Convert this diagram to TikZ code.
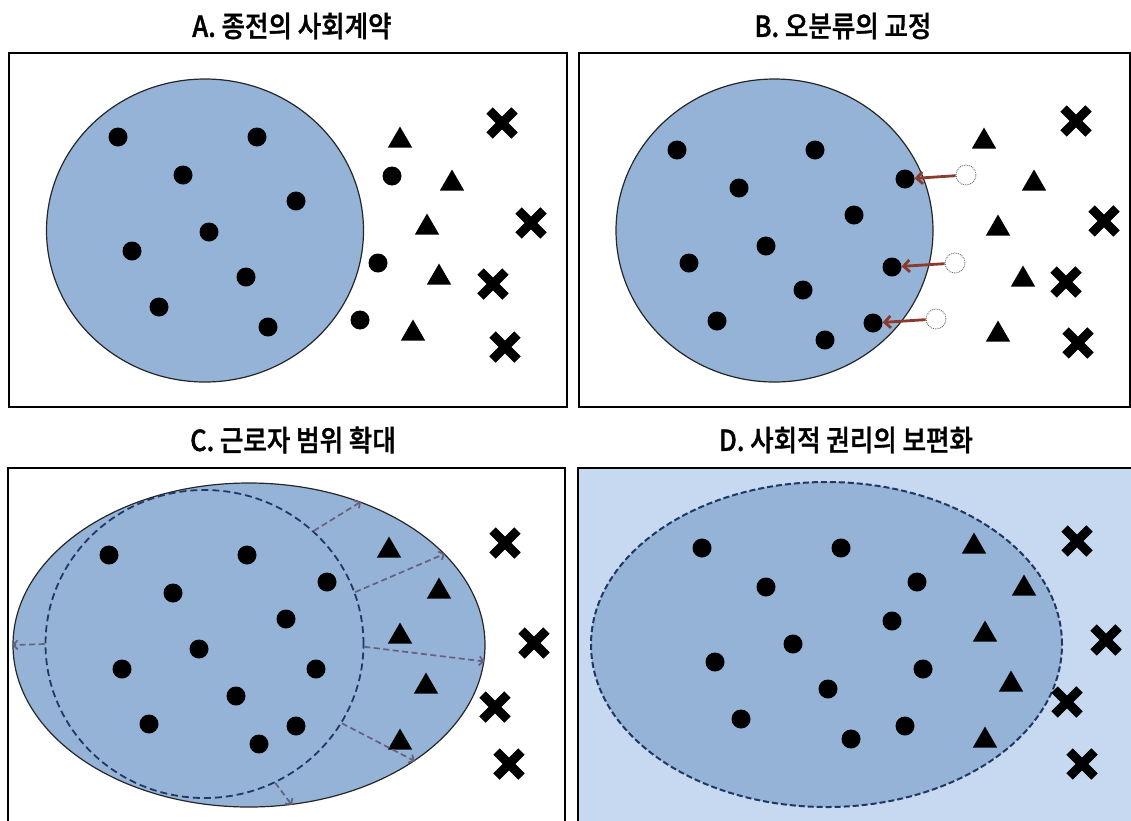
\documentclass[tikz,border=0pt]{standalone}
\usepackage{fontspec}
\newfontfamily\krfont{Noto Sans CJK KR Medium}[FakeStretch=0.88, FakeBold=1.2]
\usepackage{xcolor}
\usetikzlibrary{arrows.meta, shapes.geometric, shapes.misc}
\definecolor{groupblue}{HTML}{95B3D7}
\definecolor{panelblue}{HTML}{C6D9F1}
\definecolor{edgenavy}{HTML}{1F3864}
\definecolor{fixred}{HTML}{8B3A2E}
\definecolor{widengray}{HTML}{66607E}
\tikzset{
  frame/.style={draw=black, line width=1.3pt},
  title/.style={font=\krfont\fontsize{29}{33}\selectfont, inner sep=0pt},
  group/.style={ellipse, draw=black!85, line width=1.2pt, fill=groupblue, inner sep=0pt},
  oldline/.style={ellipse, draw=edgenavy, dash pattern=on 7pt off 4pt, line width=1.8pt, inner sep=0pt},
  dot/.style={circle, fill=black, minimum size=19pt, inner sep=0pt},
  tri/.style={regular polygon, regular polygon sides=3, fill=black, minimum size=28pt, inner sep=0pt, yshift=-3.5pt},
  xmark/.style={cross out, draw=black, line width=9pt, minimum size=16pt, inner sep=0pt},
  ghost/.style={circle, draw=black!60, densely dotted, fill=white, minimum size=20pt, inner sep=0pt, line width=0.9pt},
  fixarrow/.style={-{Straight Barb[length=6pt, width=12pt]}, line width=2.8pt, fixred},
  widenarrow/.style={-{Straight Barb[length=4pt, width=9pt]}, line width=1.7pt, widengray, dash pattern=on 6pt off 3.5pt}
}
\begin{document}
\begin{tikzpicture}[x=1pt, y=-1pt]
    \useasboundingbox (0,0) rectangle (1131,820);
    % titles
    \node[title] (ta) at (292,26) {A. 종전의 사회계약};
    \node[title] (tb) at (843,26) {B. 오분류의 교정};
    \node[title] (tc) at (293,440) {C. 근로자 범위 확대};
    \node[title] (td) at (846,440) {D. 사회적 권리의 보편화};
    % A
    \draw[frame] (9,53) rectangle (567,407);
    \node[group, minimum width=317pt, minimum height=303pt] (a-grp) at (205,230.5) {};
    \foreach \x/\y [count=\i] in {118/137, 257/137, 183/175, 296/201, 209/232, 132/251, 246/277, 159/307, 268/327, 392/176, 378/263, 360/320}
        \node[dot] (a-dot\i) at (\x,\y) {};
    \foreach \x/\y [count=\i] in {400/137, 452/180, 427/224, 439/274, 413/330}
        \node[tri] (a-tri\i) at (\x,\y) {};
    \foreach \x/\y [count=\i] in {502/123, 531/223, 493/284, 505/347}
        \node[xmark] (a-x\i) at (\x,\y) {};
    % B
    \draw[frame] (579,53) rectangle (1130,407);
    \node[group, minimum width=317pt, minimum height=303pt] (b-grp) at (774.5,230.5) {};
    \foreach \x/\y [count=\i] in {677/150, 815/150, 739/188, 905/179, 854/215, 766/246, 689/263, 892/267, 803/290, 717/321, 873/323, 825/340}
        \node[dot] (b-dot\i) at (\x,\y) {};
    \foreach \x/\y [count=\i] in {984/138, 1034/180, 998/225, 1023/276, 998/331}
        \node[tri] (b-tri\i) at (\x,\y) {};
    \foreach \x/\y [count=\i] in {1076/121, 1104/221, 1066/282, 1078/343}
        \node[xmark] (b-x\i) at (\x,\y) {};
    \node[ghost] (b-old1) at (966,175) {};
    \node[ghost] (b-old2) at (955,263) {};
    \node[ghost] (b-old3) at (936,319) {};
    \draw[fixarrow] (b-old1) -- (b-dot4);
    \draw[fixarrow] (b-old2) -- (b-dot8);
    \draw[fixarrow] (b-old3) -- (b-dot11);
    % C
    \draw[frame] (8,468) rectangle (565,825);
    \node[group, minimum width=472pt, minimum height=324pt] (c-new) at (249,645) {};
    \node[oldline, minimum width=318pt, minimum height=308pt] (c-old) at (204.5,644) {};
    \foreach \x/\y [count=\i] in {109/555, 247/555, 173/593, 327/582, 286/619, 199/649, 122/669, 316/669, 236/696, 149/724, 296/726, 259/744}
        \node[dot] (c-dot\i) at (\x,\y) {};
    \foreach \x/\y [count=\i] in {389/547, 439/588, 400/633, 426/683, 400/739}
        \node[tri] (c-tri\i) at (\x,\y) {};
    \foreach \x/\y [count=\i] in {505/543, 534/643, 495/707, 509/764}
        \node[xmark] (c-x\i) at (\x,\y) {};
    \draw[widenarrow] (c-old.46) -- (c-new.52);
    \draw[widenarrow] (c-old.19) -- (c-new.25);
    \draw[widenarrow] (c-old.359) -- (c-new.356);
    \draw[widenarrow] (c-old.330) -- (c-new.325);
    \draw[widenarrow] (c-old.297) -- (c-new.285);
    \draw[widenarrow] (c-old.180) -- (c-new.180);
    % D
    \draw[frame, fill=panelblue] (578,468) rectangle (1140,825);
    \node[group, draw=edgenavy, dash pattern=on 6pt off 3pt, line width=2pt, minimum width=471pt, minimum height=325pt] (d-grp) at (826.5,644.5) {};
    \foreach \x/\y [count=\i] in {702/548, 841/548, 766/587, 917/582, 892/621, 793/644, 715/662, 923/669, 828/689, 741/719, 905/726, 851/739}
        \node[dot] (d-dot\i) at (\x,\y) {};
    \foreach \x/\y [count=\i] in {974/543, 1024/585, 985/631, 1011/681, 985/737}
        \node[tri] (d-tri\i) at (\x,\y) {};
    \foreach \x/\y [count=\i] in {1077/541, 1106/640, 1067/702, 1082/764}
        \node[xmark] (d-x\i) at (\x,\y) {};
\end{tikzpicture}
\end{document}
